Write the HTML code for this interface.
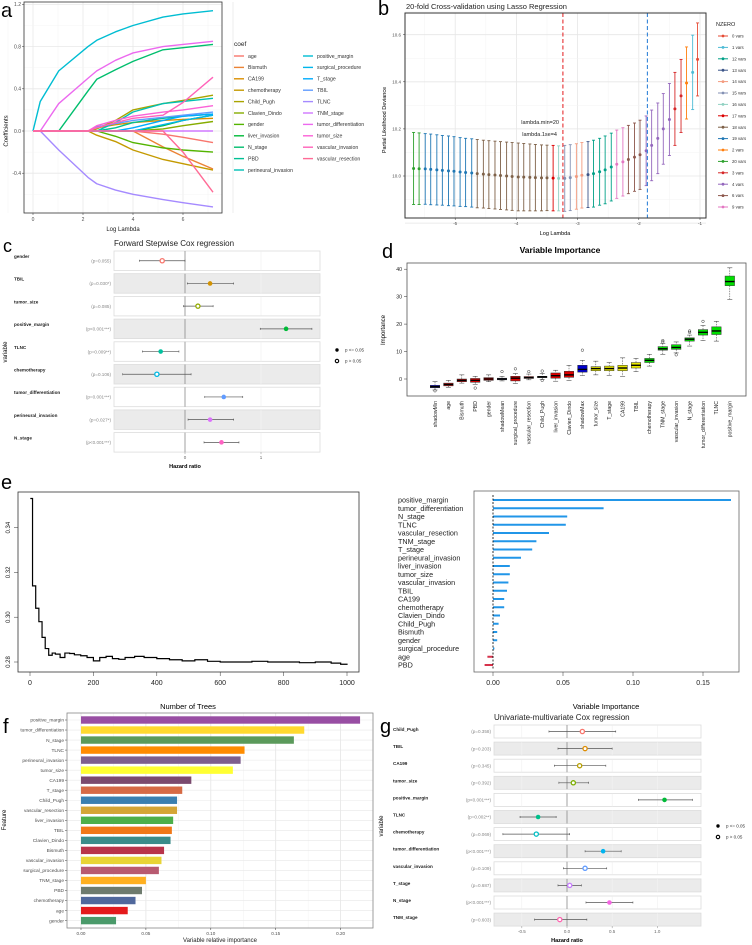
<!DOCTYPE html>
<html><head><meta charset="utf-8">
<style>
body{margin:0;background:#fff}
svg{display:block;font-family:"Liberation Sans",Arial,sans-serif}
</style></head>
<body>
<svg id="fig" width="752" height="945" viewBox="0 0 752 945">
<defs>
<clipPath id="clipA"><rect x="24" y="2" width="198" height="211"/></clipPath>
<clipPath id="clipB"><rect x="405" y="13" width="301" height="205"/></clipPath>
</defs>
<rect x="0" y="0" width="752" height="945" fill="#fff"/>
<text x="1" y="17" font-size="20">a</text>
<text x="378" y="15" font-size="20">b</text>
<text x="3" y="252" font-size="18">c</text>
<text x="382" y="258" font-size="20">d</text>
<text x="1" y="489" font-size="20">e</text>
<text x="3" y="733" font-size="20">f</text>
<text x="380" y="733" font-size="20">g</text>

<text x="406" y="9" font-size="7.5" fill="#222">20-fold Cross-validation using Lasso Regression</text>
<text x="114" y="246" font-size="8" fill="#222">Forward Stepwise Cox regression</text>
<text x="560" y="253" font-size="8.5" font-weight="bold" text-anchor="middle">Variable Importance</text>
<text x="494" y="720" font-size="8" fill="#222">Univariate-multivariate Cox regression</text>

<text x="123" y="231" font-size="6" text-anchor="middle" fill="#222">Log Lambda</text>
<text x="8" y="131" font-size="6" text-anchor="middle" transform="rotate(-90 8 131)">Coefficients</text>
<text x="555" y="235" font-size="5.5" text-anchor="middle">Log Lambda</text>
<text x="386" y="120" font-size="5.5" text-anchor="middle" transform="rotate(-90 386 120)">Partial Likelihood Deviance</text>
<text x="185" y="468" font-size="5.5" font-weight="bold" text-anchor="middle">Hazard ratio</text>
<text x="7" y="352" font-size="6" text-anchor="middle" transform="rotate(-90 7 352)">variable</text>
<text x="385" y="330" font-size="6" text-anchor="middle" transform="rotate(-90 385 330)">Importance</text>
<text x="188" y="709" font-size="7.5" text-anchor="middle">Number of Trees</text>
<text x="606" y="709" font-size="7.5" text-anchor="middle">Variable Importance</text>
<text x="220" y="942" font-size="6" text-anchor="middle" fill="#222">Variable relative importance</text>
<text x="6" y="820" font-size="6" text-anchor="middle" transform="rotate(-90 6 820)">Feature</text>
<text x="567" y="942" font-size="5.5" font-weight="bold" text-anchor="middle">Hazard ratio</text>
<text x="383" y="826" font-size="6" text-anchor="middle" transform="rotate(-90 383 826)">variable</text>
</svg>
<script>
// ---------- DATA ----------
const aGrid=[0,0.29,1.03,2.2,2.55,3.3,4.0,5.2,6.0,7.2];
const aVars=['age','Bismuth','CA199','chemotherapy','Child_Pugh','Clavien_Dindo','gender','liver_invasion','N_stage','PBD','perineural_invasion','positive_margin','surgical_procedure','T_stage','TBIL','TLNC','TNM_stage','tumor_differentiation','tumor_size','vascular_invasion','vascular_resection'];
const aCoef=[
[0,0,0,0,0,0,0,-0.03,-0.06,-0.11],
[0,0,0,0,0,0,0,-0.15,-0.24,-0.36],
[0,0,0,0,0.03,0.06,0.08,0.10,0.11,0.12],
[0,0,0,0,-0.04,-0.10,-0.18,-0.27,-0.31,-0.37],
[0,0,0,0,0.02,0.10,0.20,0.26,0.29,0.34],
[0,0,0,0,0,0,0,0.02,0.05,0.09],
[0,0,0,0,0,-0.05,-0.11,-0.16,-0.18,-0.20],
[0,0,0,0,0,0,0,0.05,0.10,0.15],
[0,0,0,0.38,0.49,0.58,0.66,0.77,0.79,0.82],
[0,0,0,0,0,0.03,0.08,0.12,0.14,0.16],
[0,0,0,0,0,0.08,0.18,0.26,0.28,0.31],
[0,0.28,0.57,0.80,0.86,0.94,1.00,1.08,1.11,1.14],
[0,0,0,0,0,0,0,0.06,0.10,0.15],
[0,0,0,0,0,0,0.03,0.10,0.14,0.16],
[0,0,0,0,0.04,0.07,0.10,0.13,0.15,0.18],
[0,0,-0.18,-0.44,-0.50,-0.56,-0.60,-0.65,-0.68,-0.72],
[0,0,0,0,0,0,0,0,0,0],
[0,0,0.26,0.50,0.57,0.67,0.74,0.80,0.82,0.85],
[0,0,0,0,0.05,0.10,0.14,0.18,0.20,0.24],
[0,0,0,0,0.03,0.08,0.12,0.15,0.27,0.51],
[0,0,0,0,0,0,0,0,-0.20,-0.58]];
const aXTicks=[0,2,4,6];
const aYTicks=[-0.4,0.0,0.4,0.8,1.2];

const bLogLambda=[-5.68,-5.59,-5.49,-5.40,-5.30,-5.21,-5.11,-5.02,-4.92,-4.83,
-4.73,-4.64,-4.54,-4.45,-4.35,-4.26,-4.16,-4.07,-3.97,-3.88,
-3.78,-3.69,-3.59,-3.50,-3.40,-3.31,-3.21,-3.12,-3.02,-2.93,
-2.83,-2.74,-2.64,-2.55,-2.45,-2.36,-2.26,-2.17,-2.07,-1.98,
-1.88,-1.79,-1.69,-1.60,-1.50,-1.41,-1.31,-1.22,-1.12,-1.04];
const bMean=[10.032,10.031,10.030,10.028,10.026,10.024,10.022,10.020,10.017,10.015,
10.013,10.010,10.008,10.006,10.004,10.002,10.000,9.998,9.996,9.995,
9.994,9.993,9.992,9.992,9.991,9.990,9.990,9.993,9.998,10.003,
10.006,10.010,10.018,10.026,10.038,10.050,10.060,10.070,10.080,10.090,
10.107,10.130,10.160,10.200,10.240,10.285,10.340,10.395,10.440,10.495];
const bUpper=[10.185,10.183,10.180,10.178,10.175,10.172,10.170,10.167,10.163,10.160,
10.158,10.155,10.152,10.150,10.148,10.146,10.144,10.142,10.140,10.138,
10.136,10.134,10.132,10.131,10.130,10.128,10.130,10.133,10.137,10.142,
10.146,10.152,10.160,10.170,10.182,10.195,10.205,10.215,10.225,10.237,
10.255,10.280,10.310,10.350,10.393,10.440,10.495,10.548,10.598,10.650];
const bNzero=['20','20','19','19','19','19','19','19','19','19','19','18','18','18','18','18','18','18','18','18','18','18','18','18','17','16','15','15','14','14','13','12','12','12','12','9','9','6','6','6','4','4','4','4','4','3','3','2','1','0'];
const bLegend=['0','1','12','13','14','15','16','17','18','19','2','20','3','4','6','9'];
const bColors=['#e64b35','#4dbbd5','#00a087','#3c5488','#f39b7f','#8491b4','#91d1c2','#dc0000','#7e6148','#1f77b4','#ff7f0e','#2ca02c','#d62728','#9467bd','#8c564b','#e377c2'];
const bXTicks=[-5,-4,-3,-2,-1];
const bYTicks=[10.0,10.2,10.4,10.6];
const bLambdaMin=-3.24, bLambda1se=-1.86;

const cVars=['gender','TBIL','tumor_size','positive_margin','TLNC','chemotherapy','tumor_differentiation','perineural_invasion','N_stage'];
const cEst=[-0.30,0.33,0.17,1.33,-0.32,-0.37,0.51,0.33,0.48];
const cLow=[-0.60,0.03,-0.02,0.99,-0.56,-0.82,0.26,0.04,0.25];
const cHigh=[0.00,0.64,0.37,1.67,-0.08,0.08,0.76,0.64,0.71];
const cP=['(p=0.055)','(p=0.030*)','(p=0.085)','(p<0.001***)','(p=0.009**)','(p=0.106)','(p=0.001***)','(p=0.027*)','(p<0.001***)'];
const cSig=[false,true,false,true,true,false,true,true,true];
const cXTicks=[0,1];

const dVars=['shadowMin','age','Bismuth','PBD','gender','shadowMean','surgical_procedure','vascular_resection','Child_Pugh','liver_invasion','Clavien_Dindo','shadowMax','tumor_size','T_stage','CA199','TBIL','chemotherapy','TNM_stage','vascular_invasion','N_stage','tumor_differentiation','TLNC','positive_margin'];
const dMed=[-2.8,-2,-0.5,-0.5,0,0,0.3,0.5,0.8,1.2,1.5,3.5,3.8,3.8,4,5,6.8,11,11.5,14.5,17,17.5,35.5];
const dQ1=[-3.2,-2.5,-1,-1.2,-0.5,-0.3,-0.7,0.2,0.5,0.3,0.6,2.5,3,3,3,4,6,10.5,10.8,13.8,16,16.2,34];
const dQ3=[-2.3,-1.5,0,0.2,0.5,0.3,1,0.9,1,2.2,2.8,5,4.5,4.7,5,6,7.5,11.8,12.5,15,18,19,37.5];
const dMin=[-4,-3,-1.5,-2,-1,-0.7,-1.7,-0.3,-0.2,-0.8,-0.5,1.3,1.5,1.3,1,2.7,4.7,9,9.5,12,14,13.8,29];
const dMax=[-1,-0.5,1.5,1,1.5,1,2,1.8,2,3.2,5,6.8,6.5,6,7.7,7.5,9,13,13.5,16,19.5,21,40.5];
const dOut=[[-4.3],[],[],[-3.3],[],[2.7],[3.7],[2.7],[2.9,-0.5],[],[],[10.5],[],[],[],[],[],[14,13.5],[8.8],[17.5,17],[21],[],[]];
const dGroup=['shadow','rej','rej','rej','rej','shadow','rej','rej','rej','rej','rej','shadow','tent','tent','tent','tent','conf','conf','conf','conf','conf','conf','conf'];
const dYTicks=[0,10,20,30,40];

const eTrees=[1,8,18,28,38,48,59,70,80,95,110,125,140,160,180,200,220,240,260,280,300,330,360,400,440,480,520,560,600,650,700,750,800,850,900,950,980,1000];
const eErr=[0.353,0.314,0.304,0.298,0.291,0.286,0.283,0.284,0.2835,0.282,0.284,0.2838,0.2832,0.2828,0.282,0.2805,0.282,0.2825,0.2815,0.2812,0.282,0.2825,0.282,0.2815,0.281,0.2805,0.281,0.2803,0.28,0.28,0.2803,0.28,0.28,0.2797,0.28,0.2795,0.279,0.2793];
const eXTicks=[0,200,400,600,800,1000];
const eYTicks=[0.28,0.30,0.32,0.34];

const e2Vars=['positive_margin','tumor_differentiation','N_stage','TLNC','vascular_resection','TNM_stage','T_stage','perineural_invasion','liver_invasion','tumor_size','vascular_invasion','TBIL','CA199','chemotherapy','Clavien_Dindo','Child_Pugh','Bismuth','gender','surgical_procedure','age','PBD'];
const e2Vals=[0.170,0.079,0.053,0.052,0.040,0.031,0.028,0.020,0.012,0.012,0.011,0.010,0.008,0.008,0.005,0.004,0.003,0.003,0.001,-0.004,-0.006];
const e2XTicks=['0.00','0.05','0.10','0.15'];

const fVars=['positive_margin','tumor_differentiation','N_stage','TLNC','perineural_invasion','tumor_size','CA199','T_stage','Child_Pugh','vascular_resection','liver_invasion','TBIL','Clavien_Dindo','Bismuth','vascular_invasion','surgical_procedure','TNM_stage','PBD','chemotherapy','age','gender'];
const fVals=[0.215,0.172,0.164,0.126,0.123,0.117,0.085,0.078,0.074,0.074,0.071,0.070,0.069,0.064,0.062,0.060,0.050,0.047,0.042,0.036,0.027];
const fColors=['#984ea3','#ffd92f','#5b9a5b','#ff8c00','#7e5f8e','#ffff33','#7b4a6e','#d66a45','#3a7fb0','#d4a535','#4daf4a','#f07818','#3a8c8a','#b8344a','#e8d435','#b85a70','#ffb020','#6e7b6e','#50689c','#e41a1c','#4a9a6a'];
const fXTicks=['0.00','0.05','0.10','0.15','0.20'];

const gVars=['Child_Pugh','TBIL','CA199','tumor_size','positive_margin','TLNC','chemotherapy','tumor_differentiation','vascular_invasion','T_stage','N_stage','TNM_stage'];
const gEst=[0.17,0.20,0.14,0.07,1.08,-0.32,-0.34,0.40,0.20,0.03,0.47,-0.08];
const gLow=[-0.20,-0.10,-0.14,-0.09,0.79,-0.52,-0.71,0.20,-0.04,-0.10,0.21,-0.36];
const gHigh=[0.54,0.50,0.43,0.24,1.39,-0.12,0.03,0.60,0.44,0.16,0.73,0.22];
const gP=['(p=0.358)','(p=0.203)','(p=0.345)','(p=0.392)','(p<0.001***)','(p=0.002**)','(p=0.069)','(p<0.001***)','(p=0.109)','(p=0.687)','(p<0.001***)','(p=0.603)'];
const gSig=[false,false,false,false,true,true,false,true,false,false,true,false];
const gXTicks=[-0.5,0.0,0.5,1.0];

// ---------- HELPERS ----------
const NS='http://www.w3.org/2000/svg';
const svg=document.getElementById('fig');
function el(tag,attrs,parent){const e=document.createElementNS(NS,tag);for(const k in attrs)e.setAttribute(k,attrs[k]);(parent||svg).appendChild(e);return e;}
function tx(str,attrs,parent){const e=el('text',attrs,parent);e.textContent=str;return e;}
function hcl(h){const L=65,C=100,hr=h*Math.PI/180;const u=C*Math.cos(hr),v=C*Math.sin(hr);const Y=Math.pow((L+16)/116,3);const up=u/(13*L)+0.19784,vp=v/(13*L)+0.46834;const X=Y*9*up/(4*vp),Z=Y*(12-3*up-20*vp)/(4*vp);const r=3.2404542*X-1.5371385*Y-0.4985314*Z,g=-0.969266*X+1.8760108*Y+0.041556*Z,b=0.0556434*X-0.2040259*Y+1.0572252*Z;const gm=c=>{c=c<=0.0031308?12.92*c:1.055*Math.pow(Math.max(c,0),1/2.4)-0.055;return Math.round(Math.max(0,Math.min(1,c))*255);};return 'rgb('+gm(r)+','+gm(g)+','+gm(b)+')';}
function huePal(n){const o=[];for(let i=0;i<n;i++)o.push(hcl(15+i*360/n));return o;}

// ---------- PANEL A ----------
(function(){
const g=el('g',{});


const x=v=>33+25*v, y=v=>131-105.5*v;
el('rect',{x:24,y:2,width:198,height:211,fill:'#fff'},g);
for(let v=-1;v<=8;v++){el('line',{x1:x(v),x2:x(v),y1:2,y2:213,stroke:v%2===0?'#e8e8e8':'#f4f4f4','stroke-width':v%2===0?0.8:0.5},g);}
for(let v=-0.6;v<=1.3;v+=0.2){const major=Math.abs(Math.round(v*10))%4===0;el('line',{x1:24,x2:222,y1:y(v),y2:y(v),stroke:major?'#e8e8e8':'#f4f4f4','stroke-width':major?0.8:0.5},g);}
const cols=huePal(aVars.length);
const lg=el('g',{'clip-path':'url(#clipA)'},g);
aCoef.forEach((row,i)=>{
  const p=el('polyline',{points:row.map((c,j)=>x(aGrid[j])+','+y(c)).join(' '),fill:'none',stroke:cols[i],'stroke-width':1.4,'stroke-linejoin':'round'},lg);
  
  
});
el('rect',{x:24,y:2,width:198,height:211,fill:'none',stroke:'#333','stroke-width':0.8},g);
aXTicks.forEach(v=>{el('line',{x1:x(v),x2:x(v),y1:213,y2:215,stroke:'#333','stroke-width':0.5},g);tx(String(v),{x:x(v),y:221,'font-size':5,'text-anchor':'middle',fill:'#4d4d4d'},g);});
aYTicks.forEach(v=>{el('line',{x1:22,x2:24,y1:y(v),y2:y(v),stroke:'#333','stroke-width':0.5},g);tx(v.toFixed(1),{x:21,y:y(v)+1.8,'font-size':5,'text-anchor':'end',fill:'#4d4d4d'},g);});
tx('coef',{x:234,y:46,'font-size':6.5,fill:'#222'},g);
aVars.forEach((n,i)=>{
  const col=i<11?0:1, r=i<11?i:i-11;
  const kx=col?303:234, yy=56+r*11.4;
  el('line',{x1:kx,x2:kx+10,y1:yy,y2:yy,stroke:cols[i],'stroke-width':1.4},g);
  const t=tx(n,{x:kx+14,y:yy+1.8,'font-size':5.2,fill:'#333'},g);
  
  
});
})();

// ---------- PANEL B ----------
(function(){
const g=el('g',{});


const x=v=>700+61.2*(v+1), y=v=>176-235.5*(v-10);
el('rect',{x:405,y:13,width:301,height:205,fill:'#fff'},g);
for(let v=-6;v<=-0.5;v+=0.5){const major=Number.isInteger(v);if(x(v)<405||x(v)>706)continue;el('line',{x1:x(v),x2:x(v),y1:13,y2:218,stroke:major?'#e6e6e6':'#f3f3f3','stroke-width':major?0.8:0.5},g);}
for(let v=9.8;v<=10.71;v+=0.1){const major=Math.round(v*10)%2===0;el('line',{x1:405,x2:706,y1:y(v),y2:y(v),stroke:major?'#e6e6e6':'#f3f3f3','stroke-width':major?0.8:0.5},g);}
const cg=el('g',{'clip-path':'url(#clipB)'},g);
bMean.forEach((m,i)=>{
  const col=bColors[bLegend.indexOf(bNzero[i])];
  const xx=x(bLogLambda[i]); const up=bUpper[i], lo=2*m-up;
  el('line',{x1:xx,x2:xx,y1:y(up),y2:y(lo),stroke:col,'stroke-width':0.9},cg);
  el('line',{x1:xx-1.5,x2:xx+1.5,y1:y(up),y2:y(up),stroke:col,'stroke-width':0.9},cg);
  el('line',{x1:xx-1.5,x2:xx+1.5,y1:y(lo),y2:y(lo),stroke:col,'stroke-width':0.9},cg);
  const c=el('circle',{cx:xx,cy:y(m),r:1.5,fill:col},cg);
  
  
});
const l1=el('line',{x1:x(bLambdaMin),x2:x(bLambdaMin),y1:13,y2:218,stroke:'#e41a1c','stroke-width':1,'stroke-dasharray':'4,2.5'},g);


const l2=el('line',{x1:x(bLambda1se),x2:x(bLambda1se),y1:13,y2:218,stroke:'#1f78d4','stroke-width':1,'stroke-dasharray':'4,2.5'},g);


tx('lambda.min=20',{x:559,y:124,'font-size':5.5,'text-anchor':'end',fill:'#222'},g);
tx('lambda.1se=4',{x:557,y:136,'font-size':5.5,'text-anchor':'end',fill:'#222'},g);
el('rect',{x:405,y:13,width:301,height:205,fill:'none',stroke:'#333','stroke-width':1},g);
bXTicks.forEach(v=>{el('line',{x1:x(v),x2:x(v),y1:218,y2:220,stroke:'#333','stroke-width':0.5},g);tx(String(v),{x:x(v),y:225,'font-size':4.5,'text-anchor':'middle',fill:'#4d4d4d'},g);});
bYTicks.forEach(v=>{el('line',{x1:403,x2:405,y1:y(v),y2:y(v),stroke:'#333','stroke-width':0.5},g);tx(v.toFixed(1),{x:401,y:y(v)+1.6,'font-size':4.5,'text-anchor':'end',fill:'#4d4d4d'},g);});
tx('NZERO',{x:716,y:26,'font-size':5.5,fill:'#222'},g);
bLegend.forEach((n,i)=>{
  const yy=36+i*11.4;
  el('line',{x1:718,x2:728,y1:yy,y2:yy,stroke:bColors[i],'stroke-width':1},g);
  el('circle',{cx:723,cy:yy,r:1.4,fill:bColors[i]},g);
  const t=tx(n+' vars',{x:732,y:yy+1.6,'font-size':4.3,fill:'#333'},g);
  
  
});
})();

// ---------- FOREST helper ----------
function forest(opts){
  const g=el('g',{});
  
  
  const cols=huePal(opts.vars.length);
  opts.vars.forEach((n,i)=>{
    const top=opts.top+i*opts.step, cy=top+opts.h/2;
    el('rect',{x:opts.x0,y:top,width:opts.x1-opts.x0,height:opts.h,fill:i%2?'#ebebeb':'#fff',stroke:'#dcdcdc','stroke-width':0.8},g);
    opts.grid.forEach(v=>el('line',{x1:opts.x(v),x2:opts.x(v),y1:top,y2:top+opts.h,stroke:i%2?'#f6f6f6':'#ececec','stroke-width':0.5},g));
    el('line',{x1:opts.x(0),x2:opts.x(0),y1:top,y2:top+opts.h,stroke:'#8a8a8a','stroke-width':0.8},g);
    tx(n,{x:opts.lx,y:top+opts.labDy,'font-size':4.6,'font-weight':'bold',fill:'#222'},g);
    tx(opts.p[i],{x:opts.px,y:cy+1.7,'font-size':4.6,'text-anchor':'end',fill:'#888'},g);
    const xl=opts.x(opts.low[i]),xh=opts.x(opts.high[i]);
    el('line',{x1:xl,x2:xh,y1:cy,y2:cy,stroke:'#555','stroke-width':0.7},g);
    el('line',{x1:xl,x2:xl,y1:cy-1,y2:cy+1,stroke:'#555','stroke-width':0.6},g);
    el('line',{x1:xh,x2:xh,y1:cy-1,y2:cy+1,stroke:'#555','stroke-width':0.6},g);
    const c=opts.sig[i]?el('circle',{cx:opts.x(opts.est[i]),cy:cy,r:2.3,fill:cols[i]},g):el('circle',{cx:opts.x(opts.est[i]),cy:cy,r:2.1,fill:'#fff',stroke:cols[i],'stroke-width':1.3},g);
    
    
  });
  const bottom=opts.top+(opts.vars.length-1)*opts.step+opts.h;
  opts.ticks.forEach(v=>{el('line',{x1:opts.x(v),x2:opts.x(v),y1:bottom,y2:bottom+2,stroke:'#888','stroke-width':0.5},g);tx(opts.fmt(v),{x:opts.x(v),y:bottom+7,'font-size':4.5,'text-anchor':'middle',fill:'#666'},g);});
  el('circle',{cx:opts.legX,cy:opts.legY,r:1.7,fill:'#000'},g);
  el('circle',{cx:opts.legX,cy:opts.legY+11,r:1.7,fill:'#fff',stroke:'#000','stroke-width':1.1},g);
  tx('p <= 0.05',{x:opts.legX+8,y:opts.legY+1.6,'font-size':4.5,fill:'#333'},g);
  tx('p > 0.05',{x:opts.legX+8,y:opts.legY+12.6,'font-size':4.5,fill:'#333'},g);
}
forest({name:'panel-c-forward-stepwise-cox',vars:cVars,est:cEst,low:cLow,high:cHigh,p:cP,sig:cSig,ticks:cXTicks,grid:[1],fmt:v=>String(v),
  x:v=>185+76*v,x0:114,x1:320,top:251,step:22.7,h:19.5,lx:14,px:111,labDy:7,legX:337,legY:350});
forest({name:'panel-g-univariate-multivariate-cox',vars:gVars,est:gEst,low:gLow,high:gHigh,p:gP,sig:gSig,ticks:gXTicks,grid:[-0.5,0.5,1.0],fmt:v=>v.toFixed(1),
  x:v=>567+90.3*v,x0:494,x1:701,top:725,step:17.1,h:13,lx:393,px:491,labDy:6,legX:718,legY:826});

// ---------- PANEL D ----------
(function(){
const g=el('g',{});


const y=v=>379-2.745*v, x=i=>435+i*13.4;
const gc={shadow:'#0000cd',rej:'#e00000',tent:'#e8e800',conf:'#00e000'};
el('rect',{x:407,y:263,width:339,height:133,fill:'#fff',stroke:'#555','stroke-width':0.8},g);
dVars.forEach((n,i)=>{
  const cx=x(i), w=9.5;
  el('line',{x1:cx,x2:cx,y1:y(dMax[i]),y2:y(dQ3[i]),stroke:'#333','stroke-width':0.5,'stroke-dasharray':'1.5,1'},g);
  el('line',{x1:cx,x2:cx,y1:y(dQ1[i]),y2:y(dMin[i]),stroke:'#333','stroke-width':0.5,'stroke-dasharray':'1.5,1'},g);
  el('line',{x1:cx-2.5,x2:cx+2.5,y1:y(dMax[i]),y2:y(dMax[i]),stroke:'#333','stroke-width':0.5},g);
  el('line',{x1:cx-2.5,x2:cx+2.5,y1:y(dMin[i]),y2:y(dMin[i]),stroke:'#333','stroke-width':0.5},g);
  const b=el('rect',{x:cx-w/2,y:y(dQ3[i]),width:w,height:Math.max(1.5,y(dQ1[i])-y(dQ3[i])),fill:gc[dGroup[i]],stroke:'#333','stroke-width':0.5},g);
  
  
  el('line',{x1:cx-w/2,x2:cx+w/2,y1:y(dMed[i]),y2:y(dMed[i]),stroke:'#000','stroke-width':1.4},g);
  dOut[i].forEach(o=>el('circle',{cx:cx,cy:y(o),r:1.3,fill:'none',stroke:'#333','stroke-width':0.5},g));
  tx(n,{x:cx+1.8,y:401,'font-size':5.2,'text-anchor':'end',transform:'rotate(-90 '+(cx+1.8)+' 401)',fill:'#222'},g);
});
dYTicks.forEach(v=>{el('line',{x1:404,x2:407,y1:y(v),y2:y(v),stroke:'#333','stroke-width':0.5},g);tx(String(v),{x:402,y:y(v)+1.8,'font-size':5.2,'text-anchor':'end',fill:'#222'},g);});
})();

// ---------- PANEL E (left) ----------
(function(){
const g=el('g',{});


const x=v=>30+0.317*v, y=v=>662-2240*(v-0.28);
el('rect',{x:18,y:492,width:341,height:180,fill:'#fff',stroke:'#333','stroke-width':0.8},g);
let d='M'+x(eTrees[0])+','+y(eErr[0]);
for(let i=1;i<eTrees.length;i++){d+=' H'+x(eTrees[i])+' V'+y(eErr[i]);}
const p=el('path',{d:d,fill:'none',stroke:'#000','stroke-width':1.2},g);


eXTicks.forEach(v=>{el('line',{x1:x(v),x2:x(v),y1:672,y2:676,stroke:'#333','stroke-width':0.5},g);tx(String(v),{x:x(v),y:685,'font-size':7,'text-anchor':'middle',fill:'#222'},g);});
eYTicks.forEach(v=>{el('line',{x1:14,x2:18,y1:y(v),y2:y(v),stroke:'#333','stroke-width':0.5},g);tx(v.toFixed(2),{x:10,y:y(v),'font-size':6,'text-anchor':'middle',transform:'rotate(-90 10 '+y(v)+')',fill:'#222'},g);});
})();

// ---------- PANEL E (right) ----------
(function(){
const g=el('g',{});


const x=v=>493+1400*v, y=i=>500+i*8.25;
el('rect',{x:474,y:491,width:265,height:181,fill:'#fff',stroke:'#666','stroke-width':0.8},g);
e2Vars.forEach((n,i)=>{
  const v=e2Vals[i];
  const b=el('rect',{x:Math.min(x(0),x(v)),y:y(i)-1,width:Math.abs(x(v)-x(0)),height:2,fill:v<0?'#d6324b':'#2196e8'},g);
  
  
  tx(n,{x:398,y:y(i)+2.6,'font-size':7.2,fill:'#222'},g);
});
el('line',{x1:x(0),x2:x(0),y1:495,y2:670,stroke:'#000','stroke-width':0.8,'stroke-dasharray':'2,1.5'},g);
e2XTicks.forEach(s=>{const v=parseFloat(s);el('line',{x1:x(v),x2:x(v),y1:672,y2:676,stroke:'#333','stroke-width':0.5},g);tx(s,{x:x(v),y:685,'font-size':7,'text-anchor':'middle',fill:'#222'},g);});
})();

// ---------- PANEL F ----------
(function(){
const g=el('g',{});


const x=v=>81+1298*v, y=i=>720+i*10.03;
el('rect',{x:67,y:713,width:306,height:215,fill:'#fff'},g);
for(let v=0;v<=0.225;v+=0.025){const major=Math.round(v*1000)%50===0;el('line',{x1:x(v),x2:x(v),y1:713,y2:928,stroke:major?'#e4e4e4':'#f2f2f2','stroke-width':major?0.8:0.5},g);}
fVars.forEach((n,i)=>el('line',{x1:67,x2:373,y1:y(i),y2:y(i),stroke:'#e8e8e8','stroke-width':0.6},g));
fVars.forEach((n,i)=>{
  const b=el('rect',{x:x(0),y:y(i)-3.7,width:x(fVals[i])-x(0),height:7.4,fill:fColors[i]},g);
  
  
  el('line',{x1:65,x2:67,y1:y(i),y2:y(i),stroke:'#333','stroke-width':0.5},g);
  tx(n,{x:64,y:y(i)+1.7,'font-size':4.8,'text-anchor':'end',fill:'#4d4d4d'},g);
});
el('rect',{x:67,y:713,width:306,height:215,fill:'none',stroke:'#888','stroke-width':0.8},g);
fXTicks.forEach(s=>{const v=parseFloat(s);el('line',{x1:x(v),x2:x(v),y1:928,y2:930,stroke:'#333','stroke-width':0.5},g);tx(s,{x:x(v),y:935,'font-size':4.6,'text-anchor':'middle',fill:'#4d4d4d'},g);});
})();
</script>
</body></html>
